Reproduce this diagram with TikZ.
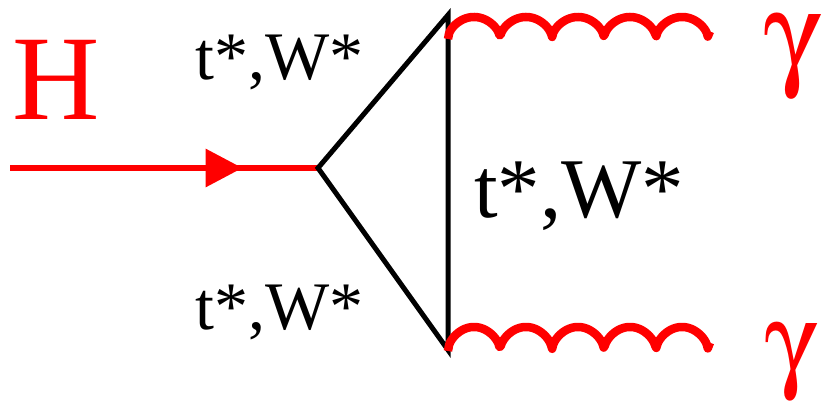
\documentclass[tikz,border=0pt]{standalone}
\usepackage{fontspec}
\setmainfont{Liberation Serif}
\usepackage[Symbol]{upgreek}
\usepackage{xcolor}
\usepackage{tikz}
\usetikzlibrary{arrows.meta,decorations.markings}

\begin{document}
\begin{tikzpicture}[x=1pt,y=-1pt,
    higgs/.style={red,line width=6.5pt,
        postaction={decorate,decoration={markings,
            mark=at position 0.755 with {\arrow{Triangle[length=37pt,width=37pt]}}}}},
    prop/.style={black,line width=5pt,line join=miter},
    photon/.style={red,line width=8.5pt,line join=round,line cap=butt},
    lbl/.style={anchor=base west,inner sep=0pt}]
    \useasboundingbox (0,0) rectangle (822,411);

    % Vertices
    \coordinate (hin) at (10,168);
    \coordinate (hvtx) at (318,168);
    \coordinate (top) at (448,15);
    \coordinate (bot) at (448,350);

    % Higgs line
    \draw[higgs] (hin) -- (hvtx);

    % Loop
    \draw[prop] (top) -- (hvtx) -- (bot) -- cycle;

    % Photons
    \draw[photon,shift={(top)}] plot[domain=0:262,samples=240]
        (\x,{24-22*sqrt(abs(sin(\x/52*180)))});
    \draw[photon,shift={(bot)}] plot[domain=0:262,samples=240]
        (\x,{1-24*sqrt(abs(sin(\x/52*180)))});

    % Labels
    \node[lbl,red,font=\fontsize{121}{121}\selectfont] (hlabel) at (12,120) {H};
    \node[lbl,font=\fontsize{68}{68}\selectfont] (tw1) at (195,80) {t*,W*};
    \node[lbl,font=\fontsize{68}{68}\selectfont] (tw2) at (195,330) {t*,W*};
    \node[lbl,font=\fontsize{85}{85}\selectfont] (tw3) at (474,218) {t*,W*};
    \node[lbl,red,font=\fontsize{118}{118}\selectfont] (g1) at (764,74) {$\upgamma$};
    \node[lbl,red,font=\fontsize{108}{108}\selectfont] (g2) at (765,378) {$\upgamma$};
\end{tikzpicture}
\end{document}
